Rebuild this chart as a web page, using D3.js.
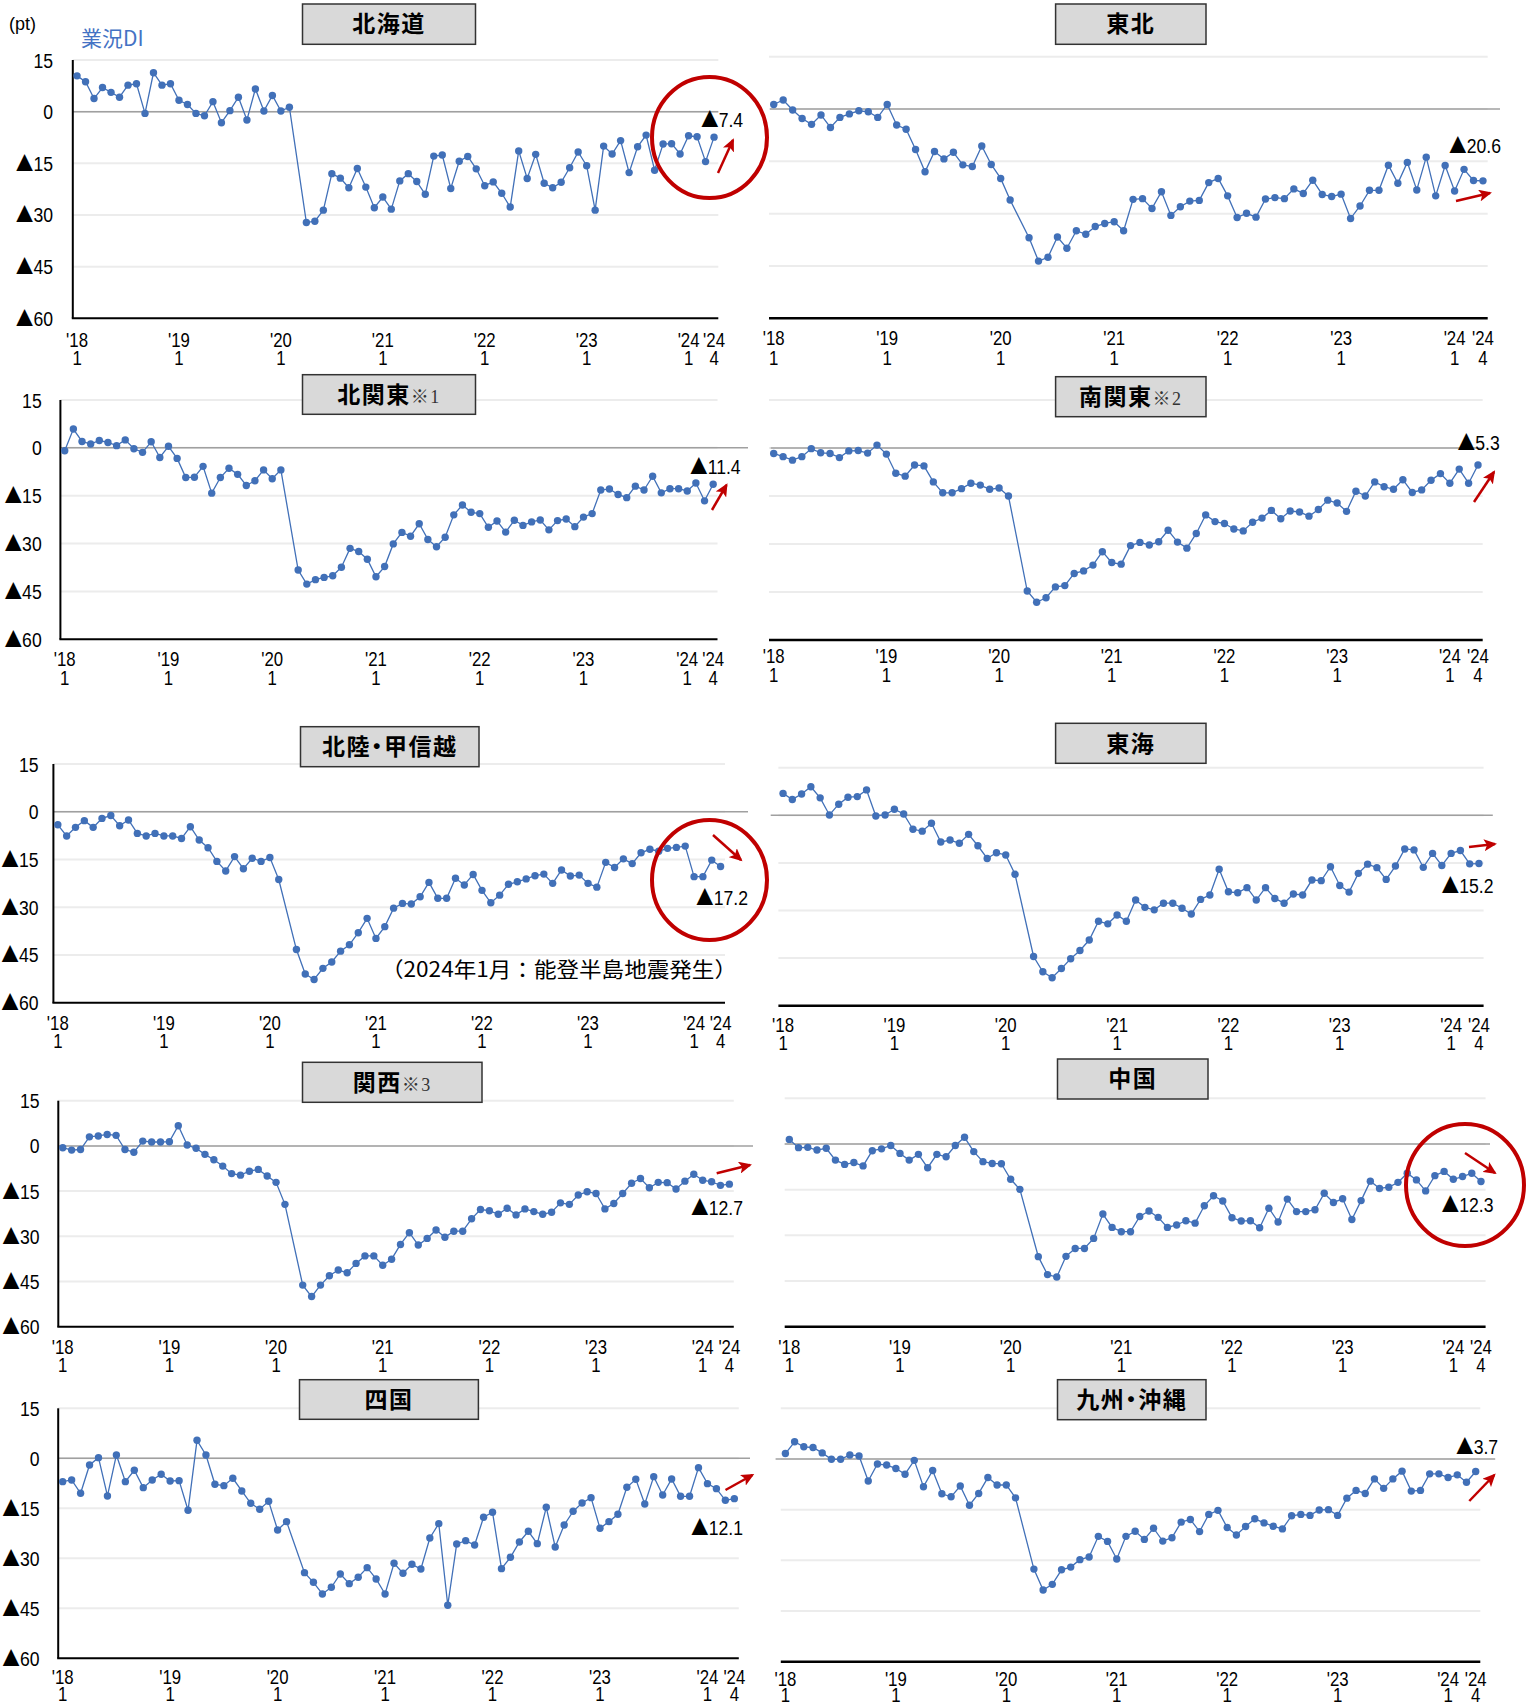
<!DOCTYPE html>
<html>
<head>
<meta charset="utf-8">
<script src="https://cdn.jsdelivr.net/npm/d3@7"></script>
<style>
  body { margin: 0; background: #fff; }
</style>
</head>
<body>
<div id="chart"></div>
<script>
const W = 1526, H = 1706;

// monthly DI, 2018/1 .. 2024/4 (2020/3 not surveyed -> null)
const hokkaido = [10.4, 8.7, 3.8, 7.0, 5.6, 4.2, 7.7, 8.1, -0.5, 11.3, 7.7, 8.1,
  3.3, 2.1, -0.5, -1.2, 2.9, -3.2, 0.3, 4.2, -2.4, 6.6, 0.2, 4.7,
  0.2, 1.3, null, -32.2, -31.8, -28.6, -18.0, -19.3, -22.1, -16.5, -21.9, -27.9,
  -24.8, -28.3, -20.1, -18.0, -20.3, -24.0, -12.9, -12.6, -22.3, -14.4, -13.0, -16.6,
  -21.5, -20.4, -23.7, -27.7, -11.4, -19.4, -12.4, -20.8, -22.1, -20.5, -16.3, -11.7,
  -15.7, -28.6, -10.0, -12.3, -8.4, -17.7, -10.2, -6.8, -17.0, -9.4, -9.3, -12.3,
  -7.0, -7.3, -14.5, -7.4];
const tohoku = [1.3, 2.6, -0.3, -2.7, -4.4, -1.7, -5.3, -2.4, -1.4, -0.5, -0.8, -2.4,
  1.3, -4.6, -5.8, -11.6, -18.0, -12.2, -14.3, -12.4, -16.0, -16.5, -10.6, -15.9,
  -19.9, -26.1, null, -36.9, -43.6, -42.5, -36.7, -39.9, -34.9, -35.9, -33.7, -32.8,
  -32.3, -34.9, -25.9, -25.7, -28.5, -23.7, -30.5, -28.0, -26.4, -26.2, -21.1, -19.9,
  -24.9, -31.1, -29.9, -31.0, -25.8, -25.4, -25.7, -22.9, -24.2, -20.4, -24.5, -25.1,
  -24.4, -31.4, -27.8, -23.3, -23.3, -16.1, -21.3, -15.3, -23.2, -13.8, -24.9, -16.2,
  -23.5, -17.3, -20.5, -20.6];
const kitakanto = [-0.9, 5.9, 2.0, 1.2, 2.3, 1.7, 0.7, 2.5, -0.3, -1.4, 1.9, -3.0,
  0.5, -3.3, -9.3, -9.2, -5.8, -14.2, -9.3, -6.4, -8.3, -11.8, -10.3, -6.9,
  -9.7, -6.9, null, -38.3, -42.7, -41.3, -40.6, -40.1, -37.4, -31.5, -32.5, -34.9,
  -40.4, -37.2, -30.1, -26.5, -27.7, -23.8, -28.7, -31.0, -28.0, -21.0, -17.9, -20.2,
  -20.6, -24.9, -22.9, -26.4, -22.7, -24.3, -23.2, -22.6, -25.7, -22.8, -22.3, -24.7,
  -21.7, -20.6, -13.2, -12.9, -14.6, -15.6, -12.0, -13.2, -8.9, -14.1, -12.8, -12.8,
  -13.5, -11.0, -16.6, -11.4];
const minamikanto = [-1.7, -2.7, -3.8, -2.7, -0.2, -1.5, -1.7, -3.0, -0.9, -0.8, -1.6, 0.9,
  -1.9, -7.9, -8.8, -5.3, -5.6, -10.6, -14.0, -14.0, -12.7, -11.0, -11.6, -12.9,
  -12.5, -15.0, null, -44.7, -48.2, -46.8, -43.4, -43.0, -39.2, -38.4, -36.6, -32.4,
  -35.8, -36.3, -30.5, -29.5, -30.3, -29.3, -25.7, -29.4, -31.3, -26.7, -20.9, -23.0,
  -23.6, -25.3, -25.9, -23.2, -21.9, -19.5, -22.1, -19.7, -20.0, -21.3, -19.2, -16.3,
  -17.2, -19.8, -13.5, -15.0, -10.6, -12.1, -12.9, -9.9, -13.9, -13.1, -10.1, -8.0,
  -11.0, -6.6, -11.0, -5.3];
const hokuriku = [-4.1, -7.6, -4.9, -2.8, -4.9, -2.1, -1.2, -4.4, -2.6, -6.8, -7.6, -6.8,
  -7.6, -7.6, -8.4, -4.7, -8.9, -11.3, -15.6, -18.6, -14.1, -17.9, -14.6, -15.6,
  -14.4, -21.3, null, -43.3, -51.0, -52.7, -49.2, -47.2, -43.8, -41.8, -38.0, -33.5,
  -39.8, -36.1, -30.3, -28.8, -29.0, -26.7, -22.2, -27.2, -27.2, -20.9, -23.0, -19.7,
  -24.7, -28.6, -26.2, -22.8, -22.0, -21.1, -20.1, -19.6, -22.5, -18.3, -20.2, -19.9,
  -22.5, -23.7, -15.9, -17.5, -14.8, -16.3, -12.9, -11.8, -12.4, -11.5, -11.2, -10.8,
  -20.4, -20.4, -15.2, -17.2];
const tokai = [6.9, 5.0, 6.7, 9.0, 5.5, 0.1, 3.5, 5.7, 5.9, 8.0, -0.2, 0.1,
  1.9, 0.4, -4.4, -5.0, -2.5, -8.4, -7.8, -8.8, -6.0, -9.6, -13.6, -11.8,
  -12.5, -18.6, null, -44.5, -49.3, -51.2, -48.3, -45.2, -42.6, -39.3, -33.4, -34.2,
  -31.4, -33.4, -26.7, -29.0, -29.8, -27.7, -27.7, -29.3, -31.1, -26.5, -25.1, -17.0,
  -24.1, -24.4, -22.8, -26.7, -22.8, -26.2, -27.7, -24.8, -25.1, -20.4, -20.6, -16.2,
  -22.1, -24.2, -18.3, -15.4, -16.5, -20.2, -16.0, -10.6, -10.9, -16.4, -12.0, -15.8,
  -12.0, -11.1, -15.3, -15.2];
const kansai = [-0.6, -1.4, -1.2, 3.0, 3.3, 3.8, 3.5, -1.2, -2.1, 1.6, 1.3, 1.3,
  1.4, 6.7, 0.3, -0.8, -2.8, -4.6, -6.7, -9.2, -9.7, -8.4, -7.8, -10.0,
  -12.1, -19.4, null, -46.2, -50.0, -46.2, -43.1, -41.2, -42.1, -39.0, -36.5, -36.5,
  -39.6, -37.6, -32.7, -28.8, -32.9, -30.7, -27.9, -30.3, -28.3, -28.3, -24.2, -21.1,
  -21.5, -22.7, -20.7, -22.9, -20.9, -21.8, -22.7, -22.0, -18.9, -19.4, -16.3, -15.2,
  -15.8, -20.9, -19.1, -15.8, -12.4, -10.8, -13.9, -12.1, -12.2, -14.3, -11.7, -9.4,
  -11.4, -11.9, -13.1, -12.7];
const chugoku = [1.5, -1.2, -1.1, -2.0, -1.4, -5.3, -6.7, -6.1, -7.2, -2.2, -1.6, -0.5,
  -3.1, -5.3, -3.4, -7.8, -3.4, -4.2, -0.5, 2.2, -2.5, -5.8, -6.4, -6.5,
  -11.6, -14.9, null, -37.0, -42.9, -43.7, -36.9, -34.3, -34.3, -31.0, -23.0, -27.4,
  -28.8, -28.8, -23.8, -22.0, -24.1, -27.4, -26.6, -25.2, -26.0, -20.3, -17.0, -18.7,
  -24.2, -25.3, -25.2, -27.5, -21.1, -25.6, -18.1, -22.2, -22.2, -21.6, -16.2, -19.2,
  -18.0, -24.8, -18.6, -12.2, -14.6, -14.2, -12.6, -9.6, -11.8, -15.4, -10.4, -9.0,
  -11.6, -10.7, -9.6, -12.3];
const shikoku = [-7.0, -6.5, -10.5, -2.0, 0.2, -11.3, 1.0, -7.0, -3.6, -8.8, -6.5, -4.8,
  -6.8, -6.7, -15.6, 5.4, 1.0, -7.8, -8.2, -6.0, -9.8, -13.5, -15.3, -12.9,
  -21.5, -19.0, null, -34.3, -37.2, -40.7, -38.7, -34.7, -37.6, -35.7, -32.8, -36.2,
  -40.7, -31.5, -34.5, -31.8, -33.2, -23.9, -19.6, -44.1, -25.7, -24.7, -26.0, -17.7,
  -16.2, -33.1, -29.7, -25.1, -21.9, -25.6, -14.7, -26.6, -20.0, -15.9, -13.4, -11.8,
  -21.0, -19.0, -16.8, -8.7, -6.3, -13.7, -5.5, -11.0, -6.2, -11.4, -11.4, -2.8,
  -7.6, -9.1, -12.6, -12.1];
const kyushu = [1.6, 5.1, 3.6, 3.4, 1.8, -0.1, -0.1, 1.2, 0.9, -6.5, -1.5, -1.8,
  -2.8, -4.5, -0.4, -8.2, -3.4, -10.3, -11.2, -8.0, -13.7, -10.2, -5.5, -7.7,
  -7.7, -11.5, null, -32.6, -38.8, -37.1, -32.8, -32.0, -29.8, -29.0, -22.9, -24.4,
  -29.6, -22.9, -21.4, -23.8, -20.5, -24.3, -23.3, -18.7, -17.9, -21.5, -16.4, -15.2,
  -20.3, -22.5, -20.0, -17.7, -18.9, -19.9, -20.7, -16.8, -16.4, -16.7, -15.1, -15.0,
  -16.7, -11.6, -9.3, -10.2, -5.9, -8.7, -5.9, -3.6, -9.5, -9.3, -4.4, -4.4,
  -5.5, -4.7, -6.9, -3.7];

const yTicks = [15, 0, -15, -30, -45, -60];
const tickIdx = [0, 12, 24, 36, 48, 60, 72, 75];
const tickYear = ["'18", "'19", "'20", "'21", "'22", "'23", "'24", "'24"];
const tickMonth = ["1", "1", "1", "1", "1", "1", "1", "4"];

const numFont = '"Liberation Sans", Arial, sans-serif';
const jpFont = '"Noto Sans CJK JP", sans-serif';
const blue = "#4170b8";
const red = "#c00000";
const squeeze = 0.84;   // the original digits are narrow

// layout of the ten panels
const panels = [
  { name: "北海道", sub: "", data: hokkaido, x0: 72.8, x1: 718.3, yT: 60, yB: 318.3, axis: true, labX: 53,
    z: [72.8, 718.3], t1: 347, t2: 365, box: [302.5, 4, 475.5, 44.3],
    last: 7.4, lastAt: [701, 127], arrow: [718, 173, 733, 140], circle: [709.5, 137.5, 57.5, 60.5] },
  { name: "東北", sub: "", data: tohoku, x0: 769, x1: 1487.7, yT: 56.7, yB: 318.3, axis: false,
    z: [770, 1500], t1: 345, t2: 365, box: [1055.6, 4, 1206, 44.3],
    last: 20.6, lastAt: [1449, 153], arrow: [1456, 201, 1490, 193] },
  { name: "北関東", sub: "※1", data: kitakanto, x0: 60.4, x1: 717.5, yT: 400, yB: 639.3, axis: true, labX: 41.7,
    z: [60.4, 748], t1: 666, t2: 685, box: [302.5, 374.7, 475.5, 414.3],
    last: 11.4, lastAt: [690, 474], arrow: [712, 510, 726.5, 485] },
  { name: "南関東", sub: "※2", data: minamikanto, x0: 769, x1: 1482.7, yT: 400, yB: 640, axis: false,
    z: [770.7, 1483], t1: 662.7, t2: 681.7, box: [1055.6, 376.7, 1206, 416.7],
    last: 5.3, lastAt: [1457.6, 450], arrow: [1474, 502, 1494, 472] },
  { name: "北陸・甲信越", sub: "", data: hokuriku, x0: 53.4, x1: 725, yT: 764, yB: 1002.7, axis: true, labX: 38.5,
    z: [53.4, 748], t1: 1030, t2: 1048.3, box: [300.5, 726.7, 479, 766.7],
    last: 17.2, lastAt: [696, 905], arrow: [713, 835, 741, 860], circle: [709.5, 880, 57.5, 60],
    note: "（2024年1月：能登半島地震発生）", noteAt: [381, 977] },
  { name: "東海", sub: "", data: tokai, x0: 778.4, x1: 1483.6, yT: 767.7, yB: 1005.7, axis: false,
    z: [770.7, 1492.8], t1: 1031.7, t2: 1050, box: [1055.6, 723.3, 1206, 763.3],
    last: 15.2, lastAt: [1441.5, 893], arrow: [1469, 847, 1495, 844] },
  { name: "関西", sub: "※3", data: kansai, x0: 58.3, x1: 733.8, yT: 1100.7, yB: 1326.7, axis: true, labX: 39.5,
    z: [58.3, 753], t1: 1354.3, t2: 1371.7, box: [302.5, 1062.3, 482, 1102.3],
    last: 12.7, lastAt: [691, 1215], arrow: [716.7, 1173.3, 750, 1165] },
  { name: "中国", sub: "", data: chugoku, x0: 784.7, x1: 1485.6, yT: 1098.3, yB: 1326.7, axis: false,
    z: [784.7, 1490], t1: 1354.3, t2: 1371.7, box: [1057.5, 1059, 1208, 1099],
    last: 12.3, lastAt: [1441.5, 1212], arrow: [1465, 1153, 1495, 1173], circle: [1465, 1185, 59, 61] },
  { name: "四国", sub: "", data: shikoku, x0: 58.2, x1: 738.8, yT: 1408.3, yB: 1658.3, axis: true, labX: 39.5,
    z: [58.2, 750], t1: 1684, t2: 1700.5, box: [299.5, 1379.7, 478.4, 1419.3],
    last: 12.1, lastAt: [691, 1535], arrow: [725.5, 1490, 752.5, 1475] },
  { name: "九州・沖縄", sub: "", data: kyushu, x0: 780.8, x1: 1480.3, yT: 1408.3, yB: 1661.7, axis: false,
    z: [775.6, 1495.2], t1: 1685.5, t2: 1701.5, box: [1057.5, 1379.7, 1206, 1419.7],
    last: 3.7, lastAt: [1456, 1454], arrow: [1469.3, 1501, 1494.3, 1475] }
];

const svg = d3.select("#chart").append("svg")
  .attr("width", W)
  .attr("height", H)
  .style("background", "#fff");

svg.append("defs").append("marker")
  .attr("id", "arrowhead")
  .attr("markerUnits", "userSpaceOnUse")
  .attr("markerWidth", 14)
  .attr("markerHeight", 12)
  .attr("refX", 11)
  .attr("refY", 6)
  .attr("orient", "auto")
  .append("path")
  .attr("d", "M0,0 L13,6 L0,12 L3,6 Z")
  .attr("fill", red);

// number text drawn narrow; negative values get a full-width ▲
function numText(sel, x, y, v, size, anchor) {
  const t = sel.append("text")
    .attr("transform", `translate(${x},${y}) scale(${squeeze},1)`)
    .attr("text-anchor", anchor || "start")
    .style("font-family", numFont)
    .style("font-size", size + "px");
  if (typeof v === "number" && v < 0) {
    t.append("tspan").style("font-family", jpFont).text("▲");
    t.append("tspan").text(String(-v));
  } else {
    t.text(String(v));
  }
  return t;
}

panels.forEach(p => {
  const g = svg.append("g");
  const x = d3.scalePoint()
    .domain(d3.range(p.data.length))
    .range([p.x0, p.x1])
    .padding(0.5);
  const y = d3.scaleLinear()
    .domain([-60, 15])
    .range([p.yB, p.yT]);

  // gridlines
  g.selectAll(".grid")
    .data(yTicks.filter(v => v !== -60))
    .enter().append("line")
    .attr("x1", p.x0).attr("x2", p.x1)
    .attr("y1", d => y(d)).attr("y2", d => y(d))
    .attr("stroke", "#ececec")
    .attr("stroke-width", 2);

  // zero line
  g.append("line")
    .attr("x1", p.z[0]).attr("x2", p.z[1])
    .attr("y1", y(0)).attr("y2", y(0))
    .attr("stroke", "#a0a0a0")
    .attr("stroke-width", 1.5);

  // x axis
  g.append("line")
    .attr("x1", p.axis ? p.x0 - 1 : p.x0).attr("x2", p.x1)
    .attr("y1", y(-60)).attr("y2", y(-60))
    .attr("stroke", "#000")
    .attr("stroke-width", p.axis ? 2 : 2.6);

  if (p.axis) {
    g.append("line")
      .attr("x1", p.x0).attr("x2", p.x0)
      .attr("y1", y(15)).attr("y2", y(-60))
      .attr("stroke", "#000")
      .attr("stroke-width", 2);

    yTicks.forEach(v => {
      numText(g, p.labX, y(v) + 7.5, v, 21, "end");
    });
  }

  // tick labels: year over month in one text
  tickIdx.forEach((d, i) => {
    const t = g.append("text")
      .attr("transform", `translate(${x(d)},${p.t1}) scale(${squeeze},1)`)
      .attr("text-anchor", "middle")
      .style("font-family", numFont)
      .style("font-size", "20px");
    t.append("tspan").attr("x", 0).text(tickYear[i]);
    t.append("tspan").attr("x", 0).attr("dy", p.t2 - p.t1).text(tickMonth[i]);
  });

  // series
  const pts = p.data.map((v, i) => ({ i, v })).filter(d => d.v !== null);
  g.append("path")
    .datum(pts)
    .attr("fill", "none")
    .attr("stroke", blue)
    .attr("stroke-width", 1.3)
    .attr("d", d3.line().x(d => x(d.i)).y(d => y(d.v)));
  g.selectAll(".dot")
    .data(pts)
    .enter().append("circle")
    .attr("cx", d => x(d.i))
    .attr("cy", d => y(d.v))
    .attr("r", 3.7)
    .attr("fill", blue);

  // title box
  const b = p.box;
  g.append("rect")
    .attr("x", b[0]).attr("y", b[1])
    .attr("width", b[2] - b[0]).attr("height", b[3] - b[1])
    .attr("fill", "#d9d9d9")
    .attr("stroke", "#333")
    .attr("stroke-width", 1.5);
  const title = g.append("text")
    .attr("x", (b[0] + b[2]) / 2)
    .attr("y", (b[1] + b[3]) / 2)
    .attr("dy", "0.36em")
    .attr("text-anchor", "middle")
    .style("font-family", jpFont)
    .style("font-size", "23px")
    .style("font-weight", "bold")
    .style("font-feature-settings", '"palt"')
    .style("letter-spacing", "1.5px");
  title.append("tspan").text(p.name);
  if (p.sub) {
    title.append("tspan")
      .style("font-size", "18px")
      .style("font-weight", "normal")
      .style("font-family", '"Liberation Serif", "Noto Sans CJK JP", serif')
      .style("fill", "#333")
      .text(p.sub);
  }

  // latest value
  numText(g, p.lastAt[0], p.lastAt[1], -p.last, 21, "start");

  const a = p.arrow;
  g.append("line")
    .attr("x1", a[0]).attr("y1", a[1])
    .attr("x2", a[2]).attr("y2", a[3])
    .attr("stroke", red)
    .attr("stroke-width", 2.5)
    .attr("marker-end", "url(#arrowhead)");

  if (p.circle) {
    g.append("ellipse")
      .attr("cx", p.circle[0]).attr("cy", p.circle[1])
      .attr("rx", p.circle[2]).attr("ry", p.circle[3])
      .attr("fill", "none")
      .attr("stroke", red)
      .attr("stroke-width", 4);
  }

  if (p.note) {
    g.append("text")
      .attr("x", p.noteAt[0])
      .attr("y", p.noteAt[1])
      .attr("textLength", 356)
      .attr("lengthAdjust", "spacingAndGlyphs")
      .style("font-family", jpFont)
      .style("font-size", "21px")
      .text(p.note);
  }
});

svg.append("text")
  .attr("x", 9)
  .attr("y", 30)
  .style("font-family", numFont)
  .style("font-size", "18px")
  .text("(pt)");

svg.append("text")
  .attr("x", 81)
  .attr("y", 46)
  .style("font-family", jpFont)
  .style("font-size", "21px")
  .style("fill", "#4472c4")
  .text("業況DI");
</script>
</body>
</html>
